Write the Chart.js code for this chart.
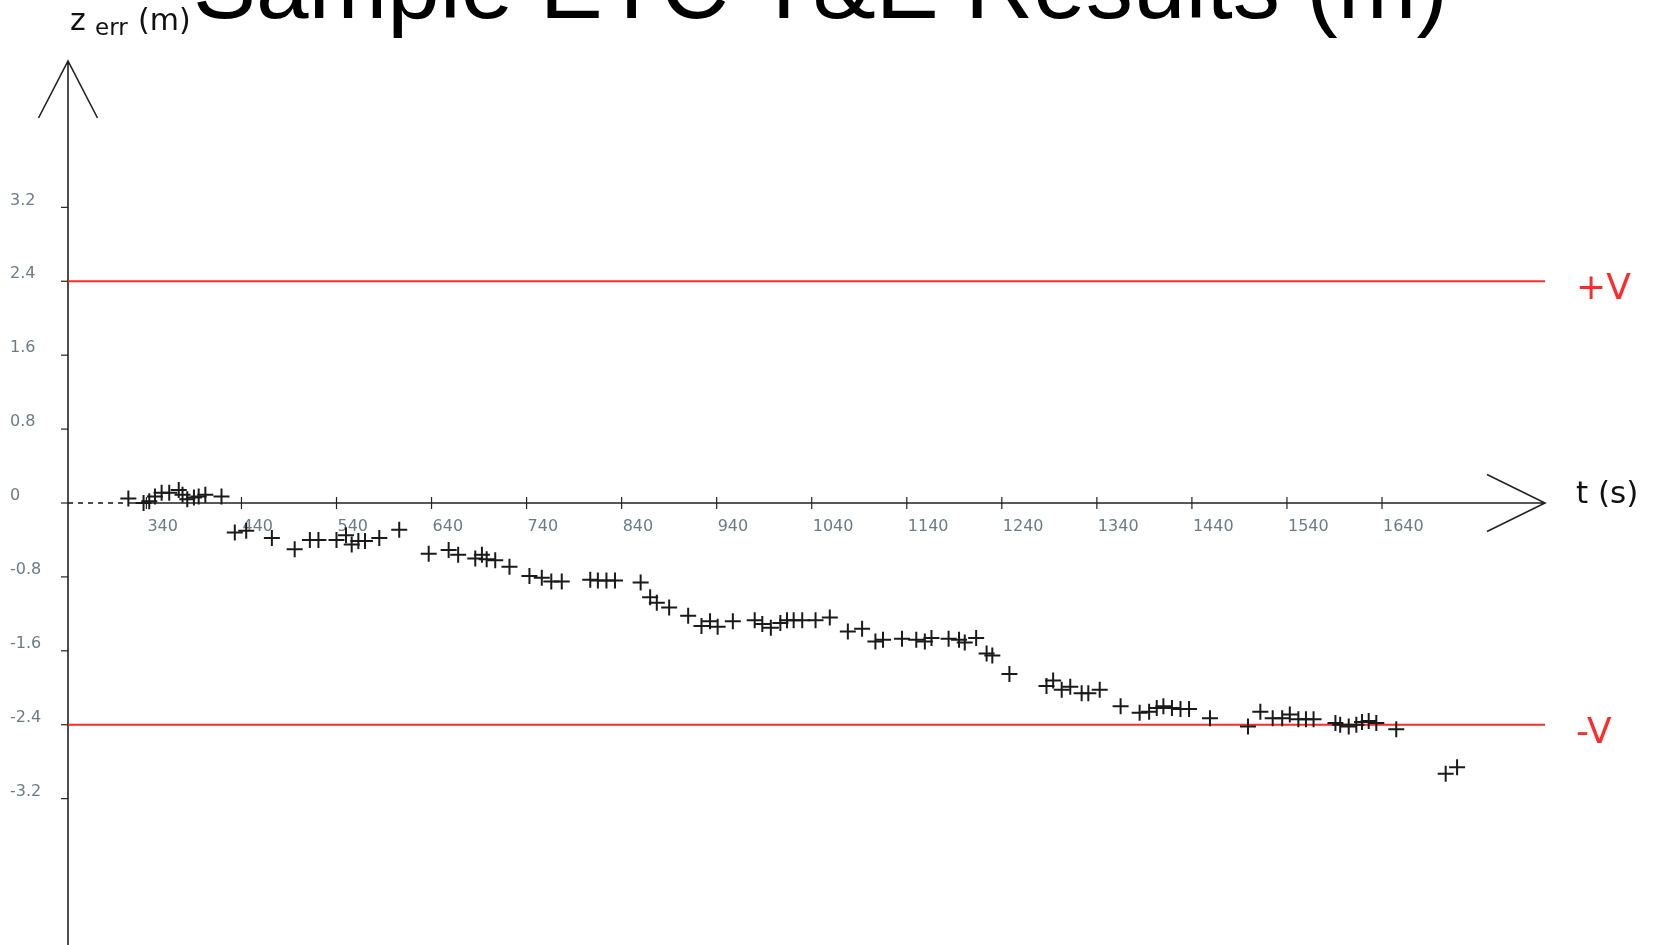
<!DOCTYPE html>
<html>
<head>
<meta charset="utf-8">
<script src="https://cdn.jsdelivr.net/npm/chart.js@4.4.1/dist/chart.umd.min.js"></script>
<style>
  html, body { margin: 0; padding: 0; background: #fff; }
  #wrap { width: 1655px; height: 945px; }
</style>
</head>
<body>
<div id="wrap"><canvas id="errChart" width="1655" height="945"></canvas></div>
<script>
// sample times (s) and altitude error (m)
const times = [321, 337, 343, 349, 356, 364, 374, 378, 383, 390, 395, 402, 419,
  433, 445, 472, 496, 512, 521, 540, 550, 556, 563, 570, 585, 606,
  637, 658, 668, 686, 693, 698, 707, 722, 743, 756, 766, 777, 807, 815, 824, 833,
  860, 870, 877, 890, 910, 924, 933, 941, 957, 980, 988, 997, 1007, 1014, 1021, 1030, 1044, 1059,
  1078, 1093, 1107, 1115, 1135, 1150, 1159, 1166, 1184, 1195, 1201, 1213, 1224, 1230, 1248,
  1287, 1294, 1303, 1312, 1324, 1331, 1343, 1365, 1385, 1395, 1403, 1410, 1419, 1428, 1437, 1459,
  1499, 1512, 1525, 1535, 1543, 1552, 1560, 1568, 1591, 1596, 1605, 1613, 1619, 1626, 1634, 1655, 1707, 1719];
const zErr = [0.05, 0.0, 0.02, 0.07, 0.11, 0.11, 0.14, 0.09, 0.04, 0.06, 0.07, 0.09, 0.07,
  -0.32, -0.30, -0.38, -0.50, -0.40, -0.40, -0.40, -0.35, -0.45, -0.41, -0.41, -0.38, -0.29,
  -0.55, -0.51, -0.56, -0.60, -0.56, -0.61, -0.62, -0.69, -0.79, -0.81, -0.85, -0.85, -0.83, -0.84, -0.84, -0.84,
  -0.86, -1.02, -1.08, -1.13, -1.22, -1.33, -1.28, -1.34, -1.28, -1.27, -1.31, -1.35, -1.30, -1.27, -1.27, -1.27, -1.27, -1.24,
  -1.39, -1.36, -1.50, -1.48, -1.47, -1.48, -1.50, -1.46, -1.47, -1.48, -1.51, -1.46, -1.63, -1.65, -1.85,
  -1.98, -1.92, -2.02, -1.99, -2.06, -2.06, -2.02, -2.20, -2.27, -2.26, -2.22, -2.20, -2.22, -2.23, -2.23, -2.33,
  -2.42, -2.26, -2.33, -2.33, -2.29, -2.34, -2.34, -2.34, -2.38, -2.40, -2.42, -2.40, -2.37, -2.36, -2.38, -2.45, -2.93, -2.86];

const limits = [2.4, -2.4];
const limitLabels = ['+V', '-V'];
const xTicks = [340, 440, 540, 640, 740, 840, 940, 1040, 1140, 1240, 1340, 1440, 1540, 1640];
const yTicks = [3.2, 2.4, 1.6, 0.8, 0, -0.8, -1.6, -2.4, -3.2];
const xRange = [257.5, 1811.5];
const yRange = [-4.784, 4.784];

const titleText = 'Sample ETC T&E Results (m)';
const AXIS = '#222';
const TICK_TXT = '#6c7c84';
const RED = '#ff2a2a';
const FONT = '"DejaVu Sans", Verdana, sans-serif';

const pts = times.map((t, i) => ({ x: t, y: zErr[i] }));

const limitSets = limits.map(v => ({
  type: 'line',
  data: [{ x: xRange[0], y: v }, { x: xRange[1], y: v }],
  borderColor: RED,
  borderWidth: 2,
  pointRadius: 0,
  fill: false
}));

const axesPlugin = {
  id: 'axesPlugin',
  beforeDatasetsDraw(chart) {
    const { ctx, scales: { x, y } } = chart;
    const x0 = x.getPixelForValue(xRange[0]);
    const xEnd = x.getPixelForValue(xRange[1]);
    const xFirst = x.getPixelForValue(times[0]);
    const y0 = y.getPixelForValue(0);
    const yTop = y.getPixelForValue(yRange[1]);
    const yBot = y.getPixelForValue(yRange[0]);

    ctx.save();
    ctx.strokeStyle = AXIS;
    ctx.lineWidth = 1.6;

    // vertical axis with open arrow head
    ctx.beginPath();
    ctx.moveTo(x0, yBot);
    ctx.lineTo(x0, yTop);
    ctx.moveTo(x0 - 29.5, yTop + 57);
    ctx.lineTo(x0, yTop);
    ctx.lineTo(x0 + 29.5, yTop + 57);
    ctx.stroke();

    // time axis: solid from first sample, then arrow
    ctx.beginPath();
    ctx.moveTo(xFirst, y0);
    ctx.lineTo(xEnd, y0);
    ctx.moveTo(xEnd - 58, y0 - 28.5);
    ctx.lineTo(xEnd, y0);
    ctx.lineTo(xEnd - 58, y0 + 28.5);
    ctx.stroke();

    // dashed lead-in before first sample
    ctx.setLineDash([5, 5]);
    ctx.beginPath();
    ctx.moveTo(x0, y0);
    ctx.lineTo(xFirst, y0);
    ctx.stroke();
    ctx.setLineDash([]);

    // tick marks + labels
    ctx.lineWidth = 1.2;
    ctx.fillStyle = TICK_TXT;
    ctx.font = '16px ' + FONT;
    ctx.textBaseline = 'middle';
    ctx.textAlign = 'left';
    xTicks.forEach(v => {
      const px = x.getPixelForValue(v);
      ctx.beginPath();
      ctx.moveTo(px, y0 - 6);
      ctx.lineTo(px, y0 + 6);
      ctx.stroke();
      ctx.fillText(String(v), px + 1, y0 + 24);
    });
    yTicks.forEach(v => {
      const py = y.getPixelForValue(v);
      ctx.beginPath();
      ctx.moveTo(x0 - 7, py);
      ctx.lineTo(x0, py);
      ctx.stroke();
      ctx.fillText(String(v), 10, py - 7);
    });
    ctx.restore();
  },
  afterDraw(chart) {
    const { ctx, scales: { y } } = chart;
    ctx.save();
    ctx.textAlign = 'left';
    ctx.textBaseline = 'alphabetic';
    ctx.fillStyle = '#000';
    ctx.font = '94.5px "Liberation Sans", Arial, sans-serif';
    ctx.fillText(titleText, 193, 18);

    ctx.fillStyle = '#111';
    ctx.font = '30px ' + FONT;
    ctx.fillText('z', 70, 30);
    ctx.font = '23px ' + FONT;
    ctx.fillText('err', 95, 35);
    ctx.font = '30px ' + FONT;
    ctx.fillText('(m)', 138, 30);

    ctx.font = '31px ' + FONT;
    ctx.fillText('t (s)', 1576, 503);

    ctx.fillStyle = RED;
    ctx.font = '36px ' + FONT;
    limits.forEach((v, i) => {
      ctx.fillText(limitLabels[i], 1576, y.getPixelForValue(v) + 18);
    });
    ctx.restore();
  }
};

new Chart(document.getElementById('errChart'), {
  type: 'scatter',
  data: {
    datasets: [{
      data: pts,
      pointStyle: 'cross',
      pointRadius: 8,
      pointBorderWidth: 2,
      borderColor: '#1a1a1a',
      backgroundColor: '#1a1a1a',
      showLine: false
    }].concat(limitSets)
  },
  options: {
    responsive: false,
    animation: false,
    events: [],
    layout: { autoPadding: false, padding: { left: 68, right: 110, top: 61, bottom: 0 } },
    plugins: { legend: { display: false }, tooltip: { enabled: false } },
    scales: {
      x: { type: 'linear', display: false, min: xRange[0], max: xRange[1] },
      y: { type: 'linear', display: false, min: yRange[0], max: yRange[1] }
    }
  },
  plugins: [axesPlugin]
});
</script>
</body>
</html>
